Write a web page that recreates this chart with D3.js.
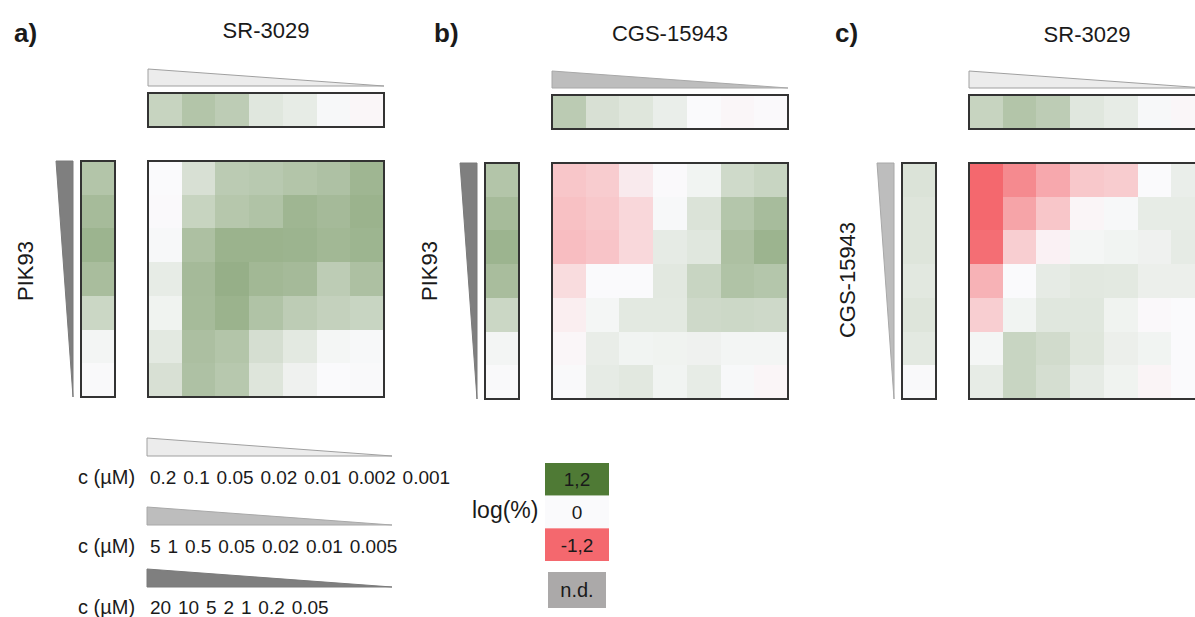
<!DOCTYPE html>
<html>
<head>
<meta charset="utf-8">
<script src="https://cdn.jsdelivr.net/npm/d3@7"></script>
<style>
  html, body { margin: 0; padding: 0; background: #fff; }
  svg { display: block; font-family: "Liberation Sans", Arial, sans-serif; }
</style>
</head>
<body>
<svg id="chart" width="1195" height="617"></svg>
<script>
// Concentration series (µM) for each compound
const srConc  = ["0.2", "0.1", "0.05", "0.02", "0.01", "0.002", "0.001"];
const cgsConc = ["5", "1", "0.5", "0.05", "0.02", "0.01", "0.005"];
const pikConc = ["20", "10", "5", "2", "1", "0.2", "0.05"];

// Single-agent responses, log(%)
const srAlone   = [0.36, 0.50, 0.43, 0.18, 0.13, 0.02, -0.03];
const pikAlone  = [0.50, 0.59, 0.66, 0.57, 0.33, 0.05, 0.01];
const cgsAloneB = [0.44, 0.24, 0.19, 0.11, 0.00, -0.03, -0.01];
const cgsAloneC = [0.22, 0.20, 0.20, 0.17, 0.20, 0.16, 0.01];

// Combination matrices, log(%); rows = vertical compound, columns = horizontal compound
const comboA = [
  [0.00, 0.24, 0.44, 0.46, 0.50, 0.53, 0.64],
  [-0.01, 0.36, 0.48, 0.52, 0.64, 0.60, 0.67],
  [0.02, 0.54, 0.67, 0.67, 0.66, 0.62, 0.65],
  [0.13, 0.60, 0.70, 0.62, 0.60, 0.43, 0.54],
  [0.07, 0.59, 0.67, 0.52, 0.43, 0.38, 0.35],
  [0.16, 0.55, 0.50, 0.26, 0.16, 0.04, 0.02],
  [0.24, 0.53, 0.47, 0.20, 0.08, 0.00, 0.01]
];
const comboB = [
  [-0.43, -0.38, -0.13, -0.01, 0.06, 0.30, 0.35],
  [-0.47, -0.41, -0.29, 0.02, 0.22, 0.49, 0.58],
  [-0.50, -0.44, -0.28, 0.14, 0.18, 0.54, 0.66],
  [-0.25, 0.00, 0.00, 0.17, 0.35, 0.52, 0.49],
  [-0.10, 0.04, 0.16, 0.16, 0.31, 0.32, 0.31],
  [-0.03, 0.12, 0.06, 0.07, 0.08, 0.05, 0.05],
  [0.01, 0.14, 0.17, 0.06, 0.13, 0.02, -0.04]
];
const comboC = [
  [-1.20, -0.92, -0.67, -0.41, -0.38, 0.00, 0.11],
  [-1.20, -0.71, -0.43, -0.04, 0.02, 0.13, 0.13],
  [-1.15, -0.36, -0.07, 0.04, 0.06, 0.08, 0.14],
  [-0.59, 0.00, 0.14, 0.17, 0.16, 0.10, 0.10],
  [-0.36, 0.06, 0.18, 0.18, 0.07, -0.02, 0.00],
  [0.04, 0.35, 0.29, 0.19, 0.10, 0.06, 0.00],
  [0.13, 0.35, 0.26, 0.14, 0.07, -0.05, 0.00]
];

// Colour key
const legendValues = [1.2, 0, -1.2];
const legendLabels = ["1,2", "0", "-1,2"];

const color = d3.scaleLinear()
  .domain([-1.2, 0, 1.2])
  .range(["#f4686e", "#fafafc", "#4f7a35"])
  .interpolate(d3.interpolateRgb)
  .clamp(true);

// Wedge shades per compound
const wedge = {
  sr:  { fill: "#ececec", stroke: "#a0a0a0" },
  cgs: { fill: "#bdbdbd", stroke: "#a8a8a8" },
  pik: { fill: "#7f7f7f", stroke: "#7a7a7a" }
};

const svg = d3.select("#chart");
const SIZE = 236;
const STRIP = 34;

function panel(cfg) {
  const g = svg.append("g");
  const { x0, y0 } = cfg;
  const col = d3.scaleBand().domain(d3.range(7)).range([x0, x0 + SIZE]);
  const row = d3.scaleBand().domain(d3.range(7)).range([y0, y0 + SIZE]);

  // panel letter and title
  g.append("text").attr("x", cfg.letterX).attr("y", 42)
    .attr("font-size", 26).attr("font-weight", "bold").attr("fill", "#1a1a1a")
    .text(cfg.letter);
  g.append("text").attr("x", x0 + SIZE / 2).attr("y", cfg.titleY)
    .attr("text-anchor", "middle").attr("font-size", 22).attr("fill", "#1a1a1a")
    .text(cfg.title);

  // vertical axis label
  g.append("text")
    .attr("transform", `translate(${cfg.sideLabelX},${cfg.sideLabelY}) rotate(-90)`)
    .attr("text-anchor", "middle").attr("font-size", 22).attr("fill", "#1a1a1a")
    .text(cfg.sideTitle);

  // top wedge + single-agent strip
  const stripY = y0 - 68;
  const wBot = stripY - 7, wTop = wBot - 17;
  g.append("path")
    .attr("d", `M${x0},${wTop} L${x0 + SIZE},${wBot} L${x0},${wBot} Z`)
    .attr("fill", wedge[cfg.topWedge].fill).attr("stroke", wedge[cfg.topWedge].stroke).attr("stroke-width", 1);
  const top = g.append("g").attr("shape-rendering", "crispEdges");
  top.selectAll("rect").data(cfg.topAlone).join("rect")
    .attr("x", (d, i) => col(i)).attr("y", stripY)
    .attr("width", col.bandwidth() + 0.5).attr("height", STRIP)
    .attr("fill", d => color(d));
  g.append("rect").attr("x", x0).attr("y", stripY).attr("width", SIZE).attr("height", STRIP)
    .attr("fill", "none").attr("stroke", "#333").attr("stroke-width", 2);

  // side wedge + single-agent strip
  const stripX = x0 - 67;
  const wRight = stripX - 8, wLeft = wRight - 17;
  g.append("path")
    .attr("d", `M${wLeft},${y0} L${wRight},${y0} L${wRight},${y0 + SIZE} Z`)
    .attr("fill", wedge[cfg.sideWedge].fill).attr("stroke", wedge[cfg.sideWedge].stroke).attr("stroke-width", 1);
  const side = g.append("g").attr("shape-rendering", "crispEdges");
  side.selectAll("rect").data(cfg.sideAlone).join("rect")
    .attr("x", stripX).attr("y", (d, i) => row(i))
    .attr("width", STRIP).attr("height", row.bandwidth() + 0.5)
    .attr("fill", d => color(d));
  g.append("rect").attr("x", stripX).attr("y", y0).attr("width", STRIP).attr("height", SIZE)
    .attr("fill", "none").attr("stroke", "#333").attr("stroke-width", 2);

  // combination matrix
  const cells = cfg.combo.flatMap((r, ri) => r.map((v, ci) => ({ ri, ci, v })));
  const hm = g.append("g").attr("shape-rendering", "crispEdges");
  hm.selectAll("rect").data(cells).join("rect")
    .attr("x", d => col(d.ci)).attr("y", d => row(d.ri))
    .attr("width", col.bandwidth() + 0.5).attr("height", row.bandwidth() + 0.5)
    .attr("fill", d => color(d.v));
  g.append("rect").attr("x", x0).attr("y", y0).attr("width", SIZE).attr("height", SIZE)
    .attr("fill", "none").attr("stroke", "#333").attr("stroke-width", 2);
}

panel({
  letter: "a)", letterX: 14, title: "SR-3029", titleY: 38, sideTitle: "PIK93",
  sideLabelX: 33, sideLabelY: 271,
  x0: 148, y0: 161, topWedge: "sr", sideWedge: "pik",
  topAlone: srAlone, sideAlone: pikAlone, combo: comboA
});
panel({
  letter: "b)", letterX: 434, title: "CGS-15943", titleY: 41, sideTitle: "PIK93",
  sideLabelX: 437, sideLabelY: 271,
  x0: 552, y0: 163, topWedge: "cgs", sideWedge: "pik",
  topAlone: cgsAloneB, sideAlone: pikAlone, combo: comboB
});
panel({
  letter: "c)", letterX: 835, title: "SR-3029", titleY: 42, sideTitle: "CGS-15943",
  sideLabelX: 855, sideLabelY: 280,
  x0: 969, y0: 163, topWedge: "sr", sideWedge: "cgs",
  topAlone: srAlone, sideAlone: cgsAloneC, combo: comboC
});

// Concentration key
const concRows = [
  { key: "sr",  conc: srConc,  wTop: 438, base: 484 },
  { key: "cgs", conc: cgsConc, wTop: 507, base: 553 },
  { key: "pik", conc: pikConc, wTop: 569, base: 614 }
];
const ck = svg.append("g");
concRows.forEach(r => {
  ck.append("path")
    .attr("d", `M147,${r.wTop} L392,${r.wTop + 18} L147,${r.wTop + 18} Z`)
    .attr("fill", wedge[r.key].fill).attr("stroke", wedge[r.key].stroke).attr("stroke-width", 1);
  ck.append("text").attr("x", 78).attr("y", r.base)
    .attr("font-size", 20).attr("fill", "#1a1a1a").text("c (µM)");
  ck.append("text").attr("x", 150).attr("y", r.base)
    .attr("font-size", 19).attr("word-spacing", 1.6).attr("fill", "#1a1a1a").text(r.conc.join(" "));
});

// Colour key
const lg = svg.append("g");
const boxY = d3.scaleBand().domain(d3.range(legendValues.length)).range([463, 561]);
lg.append("text").attr("x", 472).attr("y", 518).attr("font-size", 23).attr("fill", "#1a1a1a").text("log(%)");
lg.selectAll("rect.key").data(legendValues).join("rect").attr("class", "key")
  .attr("x", 545).attr("y", (d, i) => boxY(i)).attr("width", 64).attr("height", boxY.bandwidth())
  .attr("fill", d => color(d));
lg.selectAll("text.key").data(legendLabels).join("text").attr("class", "key")
  .attr("x", 577).attr("y", (d, i) => boxY(i) + boxY.bandwidth() / 2 + 7)
  .attr("text-anchor", "middle").attr("font-size", 19).attr("fill", "#1a1a1a")
  .text(d => d);
lg.append("rect").attr("x", 548).attr("y", 572).attr("width", 58).attr("height", 36).attr("fill", "#aba9a9");
lg.append("text").attr("x", 577).attr("y", 597).attr("text-anchor", "middle")
  .attr("font-size", 20).attr("fill", "#1a1a1a").text("n.d.");
</script>
</body>
</html>
